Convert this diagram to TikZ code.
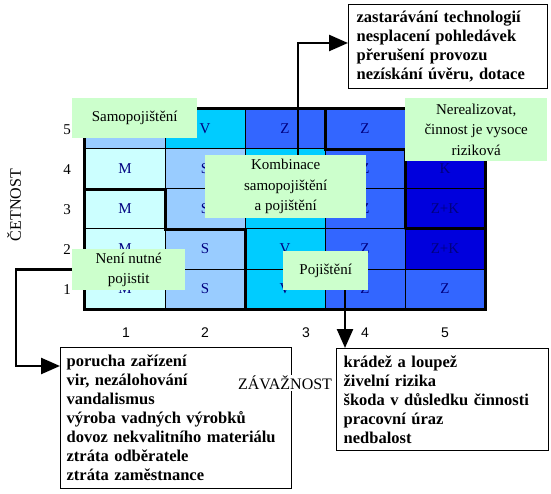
\documentclass[tikz,border=0pt]{standalone}
\usepackage{fontspec}
\setmainfont{Liberation Serif}
\newfontfamily\axisfont{Liberation Sans}
\usetikzlibrary{arrows.meta}
\hyphenpenalty=10000
\exhyphenpenalty=10000
\definecolor{cLightCyan}{HTML}{CCFFFF}
\definecolor{cLightBlue}{HTML}{99CCFF}
\definecolor{cCyan}{HTML}{00CCFF}
\definecolor{cBlue}{HTML}{3366FF}
\definecolor{cDark}{HTML}{0000DD}
\definecolor{cLabel}{HTML}{CCFFCC}
\definecolor{cText}{HTML}{000080}
\begin{document}
\begin{tikzpicture}[x=1pt,y=-1pt,
  cell/.style={draw=black, line width=1pt, minimum width=80pt, minimum height=40pt, inner sep=0pt, text=cText, font=\fontsize{15}{18}\selectfont},
  mc/.style={cell, fill=cLightCyan},
  sc/.style={cell, fill=cLightBlue},
  vc/.style={cell, fill=cCyan},
  zc/.style={cell, fill=cBlue},
  kc/.style={cell, fill=cDark},
  zone/.style={line width=2.8pt, line cap=rect},
  tag/.style={fill=cLabel, inner sep=0pt, anchor=north west, align=center, font=\fontsize{15}{20.5}\selectfont},
  listbox/.style={draw=black, line width=1.3pt, anchor=north west, align=left, inner ysep=0pt, font=\bfseries\fontsize{16.5}{19}\selectfont},
  conn/.style={line width=2.5pt, -{Triangle[length=19pt,width=16pt]}},
  rowlab/.style={font=\fontsize{15}{18}\selectfont, inner sep=0pt},
  collab/.style={font=\axisfont\fontsize{14}{16}\selectfont, inner sep=0pt},
  axistitle/.style={font=\fontsize{16}{18}\selectfont, inner sep=1pt}
]
\useasboundingbox (0,0) rectangle (551,494);
% grid cells: row 1 (bottom)
\node[mc] (c11) at (125,289) {M};
\node[sc] (c12) at (205,289) {S};
\node[vc] (c13) at (285,289) {V};
\node[zc] (c14) at (365,289) {Z};
\node[zc] (c15) at (445,289) {Z};
% row 2
\node[mc] (c21) at (125,249) {M};
\node[sc] (c22) at (205,249) {S};
\node[vc] (c23) at (285,249) {V};
\node[zc] (c24) at (365,249) {Z};
\node[kc] (c25) at (445,249) {Z+K};
% row 3
\node[mc] (c31) at (125,209) {M};
\node[sc] (c32) at (205,209) {S};
\node[vc] (c33) at (285,209) {};
\node[zc] (c34) at (365,209) {Z};
\node[kc] (c35) at (445,209) {Z+K};
% row 4
\node[mc] (c41) at (125,169) {M};
\node[sc] (c42) at (205,169) {S};
\node[vc] (c43) at (285,169) {};
\node[zc] (c44) at (365,169) {Z};
\node[kc] (c45) at (445,169) {K};
% row 5
\node[sc] (c51) at (125,129) {};
\node[vc] (c52) at (205,129) {V};
\node[zc] (c53) at (285,129) {Z};
\node[zc] (c54) at (365,129) {Z};
\node[kc] (c55) at (445,129) {};
% zone borders
\draw[zone] (c41.south west) -- (c41.south east) -- (c31.south east) -- (c32.south east) -- (c12.south east);
\draw[zone] (c53.north east) -- (c53.south east) -- (c54.south east) -- (c44.south east) -- (c34.south east) -- (c24.north east) -- (c25.north east);
\draw[zone] (c51.north west) rectangle (c15.south east);
% strategy labels
\node[tag, minimum width=125pt, minimum height=40pt] (samo) at (72,98) {Samopojištění};
\node[tag, minimum width=161pt, minimum height=63pt] (komb) at (205,155) {Kombinace\\samopojištění\\a pojištění};
\node[tag, minimum width=113pt, minimum height=41pt] (nene) at (72,249) {Není nutné\\pojistit};
\node[tag, minimum width=85pt, minimum height=39pt] (poj) at (283,251) {Pojištění};
\node[tag, minimum width=142pt, minimum height=63pt] (nereal) at (405,98) {Nerealizovat,\\činnost je vysoce\\riziková};
% axis labels
\node[rowlab] (r1) at (67,290) {1};
\node[rowlab] (r2) at (67,250) {2};
\node[rowlab] (r3) at (67,210) {3};
\node[rowlab] (r4) at (67,170) {4};
\node[rowlab] (r5) at (67,130) {5};
\node[collab] (k1) at (126,333) {1};
\node[collab] (k2) at (205,333) {2};
\node[collab] (k3) at (306,333) {3};
\node[collab] (k4) at (365,333) {4};
\node[collab] (k5) at (445,333) {5};
\node[axistitle, rotate=90] (cetnost) at (14,205) {ČETNOST};
% lists
\node[listbox, inner xsep=8pt, text width=183pt, minimum height=84pt] (topbox) at (348,4) {zastarávání technologií\\nesplacení pohledávek\\přerušení provozu\\nezískání úvěru, dotace};
\node[listbox, inner xsep=6pt, text width=219pt, minimum height=141pt] (leftbox) at (60,347) {porucha zařízení\\vir, nezálohování\\vandalismus\\výroba vadných výrobků\\dovoz nekvalitního materiálu\\ztráta odběratele\\ztráta zaměstnance};
\node[listbox, inner xsep=7pt, text width=198pt, minimum height=102pt] (rightbox) at (336,348) {krádež a loupež\\živelní rizika\\škoda v důsledku činnosti\\pracovní úraz\\nedbalost};
\node[axistitle, fill=white] (zav) at (285,383) {ZÁVAŽNOST};
% connectors
\coordinate (lc) at (16,366);
\coordinate (tc) at (298,43);
\coordinate (rc) at (345,0);
\draw[conn] (nene.west) -| (lc) -- (lc -| leftbox.west);
\draw[conn] (tc |- komb.north) -- (tc) -- (tc -| topbox.west);
\draw[conn] (rc |- poj.south) -- (rc |- rightbox.north);
\end{tikzpicture}
\end{document}
